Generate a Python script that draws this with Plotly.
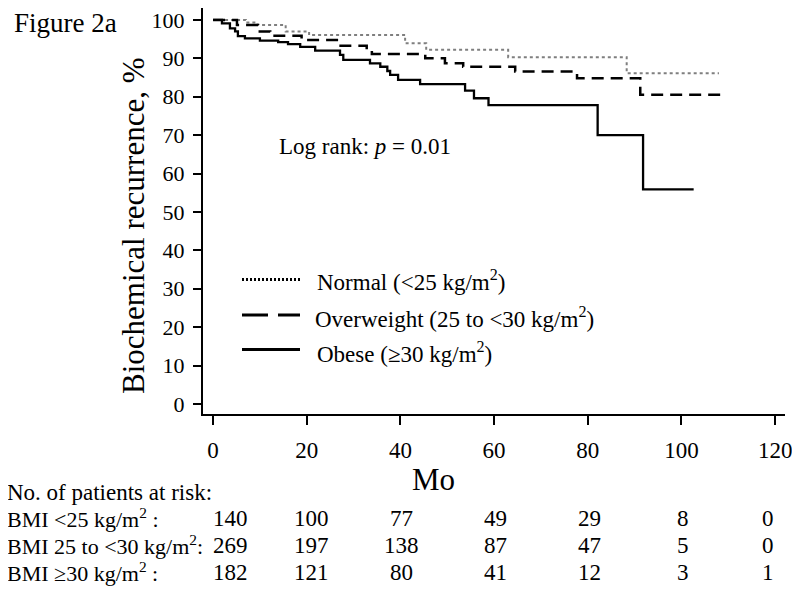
import plotly.graph_objects as go

# ---------------- data ----------------
normal_t = [0, 7.0, 9.5, 15.5, 20.5, 41.0, 45.5, 63.0, 88.3, 108.0]
normal_s = [100, 99.3, 98.7, 97.0, 96.1, 93.9, 92.2, 90.3, 86.1, 86.1]

over_t = [0, 5.1, 9.6, 12.2, 18.9, 26.7, 32.8, 33.9, 45.3, 49.5, 53.4, 64.5, 77.7, 91.2, 109.7]
over_s = [100, 98.7, 97.0, 95.9, 94.8, 93.3, 92.2, 91.1, 90.0, 88.7, 87.8, 86.6, 84.8, 80.5, 80.5]

obese_t = [0, 1.9, 3.6, 4.7, 5.3, 6.8, 10.0, 13.9, 16.0, 18.6, 21.8, 27.1, 27.8, 33.5, 35.7,
           37.2, 37.8, 39.5, 44.2, 53.8, 55.7, 58.8, 82.1, 91.8, 102.6]
obese_s = [100, 99.1, 97.8, 97.0, 95.8, 95.2, 94.6, 94.2, 93.7, 93.0, 92.0, 90.9, 89.6, 88.7, 87.8,
           86.7, 85.7, 84.4, 83.3, 81.6, 79.6, 77.8, 70.0, 55.9, 55.9]

legend_labels = ["Normal (&lt;25 kg/m<sup>2</sup>)",
                 "Overweight (25 to &lt;30 kg/m<sup>2</sup>)",
                 "Obese (≥30 kg/m<sup>2</sup>)"]

risk_times = [0, 20, 40, 60, 80, 100, 120]
risk_row_labels = ["BMI &lt;25 kg/m<sup>2</sup> :",
                   "BMI 25 to &lt;30 kg/m<sup>2</sup>:",
                   "BMI ≥30 kg/m<sup>2</sup> :"]
risk_normal = [140, 100, 77, 49, 29, 8, 0]
risk_over = [269, 197, 138, 87, 47, 5, 0]
risk_obese = [182, 121, 80, 41, 12, 3, 1]

y_ticks = [0, 10, 20, 30, 40, 50, 60, 70, 80, 90, 100]
x_ticks = [0, 20, 40, 60, 80, 100, 120]

FONT = "Liberation Serif, Times New Roman, serif"

fig = go.Figure()
fig.add_trace(go.Scatter(x=normal_t, y=normal_s, mode="lines", line_shape="hv",
                         line=dict(color="#7f7f7f", width=2, dash="3px,3px"), showlegend=False))
fig.add_trace(go.Scatter(x=over_t, y=over_s, mode="lines", line_shape="hv",
                         line=dict(color="black", width=2.5, dash="12px,7px"), showlegend=False))
fig.add_trace(go.Scatter(x=obese_t, y=obese_s, mode="lines", line_shape="hv",
                         line=dict(color="black", width=2.3), showlegend=False))

# page body has an 8px margin: compensate so the figure lands where the reference is
OFF = 8
W, H = 800 - OFF, 590 - OFF
L = 203 - OFF
T = 8 - OFF
R = W - (785 - OFF)
B = H - (414 - OFF)
pw, ph = W - L - R, H - T - B


def px_x(px):
    return (px - OFF - L) / pw


def px_y(py):
    return (T + ph - (py - OFF)) / ph


fig.update_layout(
    width=W, height=H,
    margin=dict(l=L, r=R, t=T, b=B),
    paper_bgcolor="white", plot_bgcolor="white",
    font=dict(family=FONT, size=22, color="black"),
    showlegend=False,
)
fig.update_xaxes(range=[-2.15, 122.1], tickvals=x_ticks, ticks="outside", ticklen=9, tickwidth=2,
                 tickcolor="black", showline=True, linecolor="black", linewidth=2,
                 showgrid=False, zeroline=False, tickfont=dict(size=23), ticklabelstandoff=5,
                 ticklabeloverflow="allow")
fig.update_yaxes(range=[-2.6, 103.1], tickvals=y_ticks, ticks="outside", ticklen=8, tickwidth=2,
                 tickcolor="black", showline=True, linecolor="black", linewidth=2,
                 showgrid=False, zeroline=False, tickfont=dict(size=22), ticklabelstandoff=4,
                 ticklabeloverflow="allow")

ann = []
ann.append(dict(text="Figure 2a", xref="paper", yref="paper", x=px_x(12), y=px_y(23),
                xanchor="left", yanchor="middle", showarrow=False, font=dict(size=27)))
ann.append(dict(text="Biochemical recurrence, %", xref="paper", yref="paper", x=px_x(133), y=px_y(226),
                xanchor="center", yanchor="middle", textangle=-90, showarrow=False, font=dict(size=31)))
ann.append(dict(text="Mo", xref="paper", yref="paper", x=px_x(433), y=px_y(479),
                xanchor="center", yanchor="middle", showarrow=False, font=dict(size=31)))
ann.append(dict(text="Log rank: <i>p</i> = 0.01", xref="paper", yref="paper", x=px_x(277), y=px_y(146),
                xanchor="left", yanchor="middle", showarrow=False, font=dict(size=23)))

# legend (manual)
leg_y = [279.5, 315, 349.5]
leg_text_y = [280, 317, 352]
leg_text_x = [315, 313, 315]
leg_styles = [dict(color="black", width=3, dash="2px,2px"),
              dict(color="black", width=3, dash="26px,10px"),
              dict(color="black", width=3)]
shapes = []
for i in range(3):
    shapes.append(dict(type="line", xref="paper", yref="paper", x0=px_x(242), x1=px_x(300),
                       y0=px_y(leg_y[i]), y1=px_y(leg_y[i]), line=leg_styles[i]))
    ann.append(dict(text=legend_labels[i], xref="paper", yref="paper", x=px_x(leg_text_x[i]),
                    y=px_y(leg_text_y[i]), xanchor="left", yanchor="middle", showarrow=False,
                    font=dict(size=23)))

# risk table
ann.append(dict(text="No. of patients at risk:", xref="paper", yref="paper", x=px_x(5), y=px_y(492),
                xanchor="left", yanchor="middle", showarrow=False, font=dict(size=23)))
row_y = [518, 545, 572]
col_shift = [17, 5, 1, 1, 2, 2, -7]
for r, (lab, vals) in enumerate(zip(risk_row_labels, [risk_normal, risk_over, risk_obese])):
    ann.append(dict(text=lab, xref="paper", yref="paper", x=px_x(5), y=px_y(row_y[r]),
                    xanchor="left", yanchor="middle", showarrow=False, font=dict(size=22)))
    for c, (t, v) in enumerate(zip(risk_times, vals)):
        ann.append(dict(text=str(v), xref="x", yref="paper", x=t, y=px_y(row_y[r]),
                        xshift=col_shift[c], xanchor="center", yanchor="middle", showarrow=False,
                        font=dict(size=23)))

fig.update_layout(annotations=ann, shapes=shapes)
fig.write_html("out.html")
